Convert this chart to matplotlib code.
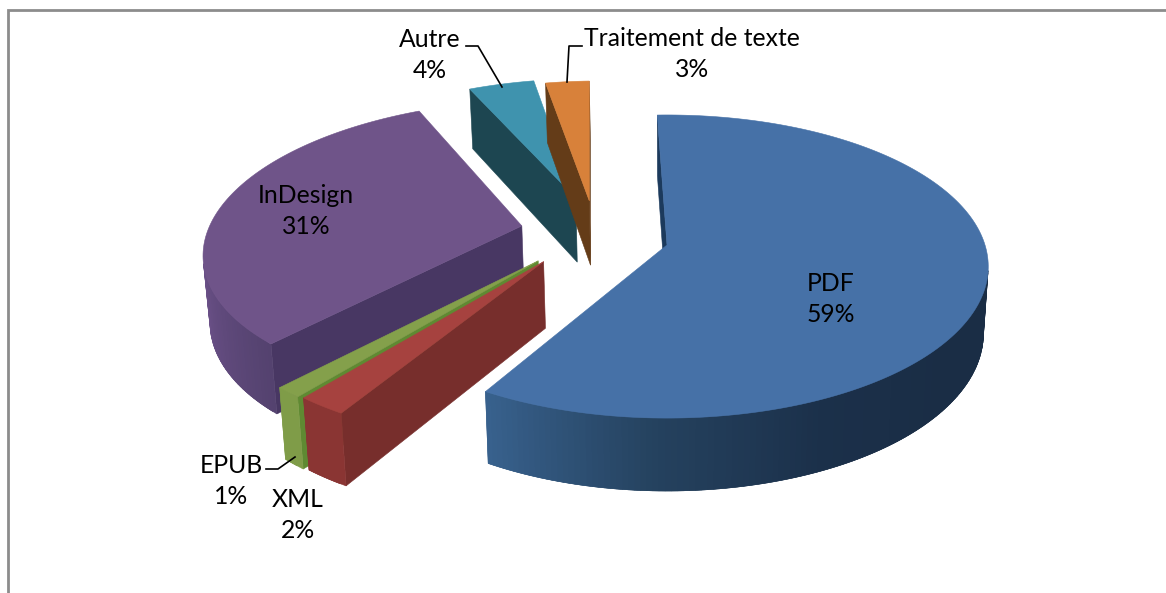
import matplotlib
matplotlib.use("Agg")
import matplotlib.pyplot as plt
import matplotlib.colors as mcolors
import numpy as np

# shares, labels show them rounded
categories = ["PDF", "XML", "EPUB", "InDesign", "Autre", "Traitement de texte"]
shares = [58.9, 2.2, 1.2, 31.2, 3.9, 2.6]

# explosion of each slice on the pie plane (x, y in pie radii)
offsets = [(0, 0), (-0.382, -0.11), (-0.399, -0.105), (-0.465, 0.131), (-0.30, 0.331), (-0.255, 0.31)]
top_colors = ["#4671A7", "#A6423F", "#84A04B", "#6F5489", "#3F93AE", "#D8813A"]
cut_colors = ["#1C3A5C", "#772E2C", "#5F8A32", "#483763", "#1D4651", "#643C18"]
# outer wall colour stops along the visible part of the arc, clockwise
wall_colors = [["#1A2D45", "#1A2D45", "#1B304A", "#25425F", "#38618D"],
               ["#8A3533", "#8A3533"], ["#7F9C48", "#7F9C48"],
               ["#54426F", "#6A5087"], ["#1D4651", "#1D4651"], ["#643C18", "#643C18"]]
# slice -> label position, centre of the two lines
label_pos = [(831, 299), (298, 515), (231, 481), (306, 211), (430, 55), (692, 54)]

CX, CY = 667, 245
RX, RY = 318, 148.5
K = 0.142
START = 358
DEPTH = 66


def project(x, y):
    s = 1 / (1 + K * y)
    return CX + x * RX * s, CY - y * RY * s


def lower(u, v):
    return CX + (u - CX) * 0.985, CY + (v - CY) * 1.04 + DEPTH


def orient(pts):
    a = np.array(pts)
    x, y = a[:, 0], a[:, 1]
    return np.sum(x * np.roll(y, -1) - np.roll(x, -1) * y)


def face(ax, pts, color):
    xs, ys = zip(*pts)
    ax.fill(xs, ys, color=color, lw=0.4, zorder=2)


fig = plt.figure(figsize=(11.66, 5.93), dpi=100)
ax = fig.add_axes([0, 0, 1, 1])
ax.set_xlim(0, 1166)
ax.set_ylim(593, 0)
ax.axis("off")

# frame of the chart, runs off the right and bottom of the crop
ax.plot([8, 8, 1166], [593, 10, 10], color="#8C8C8C", lw=2, solid_joinstyle="miter", zorder=1)

angles = START + np.cumsum([0] + shares) * 3.6
# back slices first
order = [4, 5, 3, 2, 1, 0]
for i in order:
    a0, a1 = np.radians(angles[i]), np.radians(angles[i + 1])
    ox, oy = offsets[i]
    th = np.linspace(a0, a1, max(3, int(abs(a1 - a0) * 60)))
    arc = [project(ox + np.sin(t), oy + np.cos(t)) for t in th]
    apex = project(ox, oy)

    # cut faces, only the ones turned to the viewer
    for quad in ([apex, arc[0], lower(*arc[0]), lower(*apex)],
                 [arc[-1], apex, lower(*apex), lower(*arc[-1])]):
        if orient(quad) < 0:
            face(ax, quad, cut_colors[i])

    # outer wall in strips, each one overlaps the next so no seams show
    n = len(arc) - 1
    strips = [j for j in range(n)
              if orient([arc[j], arc[j + 1], lower(*arc[j + 1]), lower(*arc[j])]) < 0]
    rgb = np.array([mcolors.to_rgb(c) for c in wall_colors[i]])
    stops = np.linspace(0, 1, len(rgb))
    for k, j in enumerate(strips):
        f = k / max(len(strips) - 1, 1)
        color = [np.interp(f, stops, rgb[:, c]) for c in range(3)]
        end = arc[min(j + 2, n)] if k < len(strips) - 1 else arc[j + 1]
        face(ax, [arc[j], end, lower(*end), lower(*arc[j])], color)

    face(ax, [apex] + arc, top_colors[i])

for name, share, (x, y) in zip(categories, shares, label_pos):
    ax.text(x, y, f"{name}\n{round(share)}%", ha="center", va="center", fontsize=17.8,
            family="Lato", color="black", linespacing=1.42, zorder=5)

# leader lines
ax.plot([466, 478, 502], [46, 46, 87], color="black", lw=1.2, zorder=5)
ax.plot([582, 569, 567], [46, 46, 82], color="black", lw=1.2, zorder=5)
ax.plot([266, 278, 295], [469, 469, 457], color="black", lw=1.2, zorder=5)

fig.savefig("out.png", dpi=100)
